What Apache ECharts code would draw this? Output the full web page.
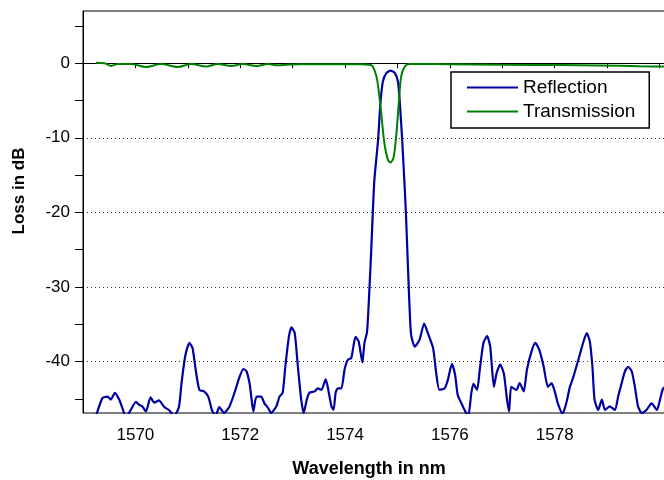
<!DOCTYPE html>
<html>
<head>
<meta charset="utf-8">
<script src="https://cdn.jsdelivr.net/npm/echarts@6/dist/echarts.min.js"></script>
<style>html,body{margin:0;padding:0;background:#fff}#c{width:664px;height:480px}</style>
</head>
<body>
<div id="c"></div>
<script>
// ---- data ----
const reflWl = [1569.24,1569.37,1569.47,1569.53,1569.61,1569.69,1569.75,1569.82,1569.91,1570.01,1570.07,1570.13,1570.20,1570.29,1570.36,1570.45,1570.55,1570.64,1570.74,1570.83,1570.88,1570.95,1571.03,1571.09,1571.15,1571.22,1571.31,1571.39,1571.46,1571.53,1571.60,1571.69,1571.79,1571.89,1571.98,1572.06,1572.12,1572.18,1572.21,1572.25,1572.31,1572.40,1572.46,1572.53,1572.59,1572.69,1572.75,1572.81,1572.86,1572.93,1572.98,1573.04,1573.10,1573.16,1573.21,1573.27,1573.32,1573.42,1573.48,1573.55,1573.63,1573.67,1573.74,1573.78,1573.82,1573.86,1573.93,1573.99,1574.05,1574.12,1574.20,1574.26,1574.33,1574.37,1574.42,1574.46,1574.50,1574.53,1574.56,1574.63,1574.67,1574.72,1574.79,1574.87,1574.95,1575.01,1575.05,1575.09,1575.13,1575.16,1575.20,1575.23,1575.26,1575.33,1575.42,1575.51,1575.58,1575.68,1575.74,1575.80,1575.90,1575.96,1576.04,1576.10,1576.15,1576.22,1576.28,1576.35,1576.41,1576.45,1576.52,1576.57,1576.64,1576.71,1576.77,1576.84,1576.89,1576.96,1577.03,1577.09,1577.13,1577.17,1577.27,1577.33,1577.41,1577.47,1577.56,1577.63,1577.71,1577.79,1577.87,1577.94,1578.00,1578.06,1578.15,1578.22,1578.29,1578.35,1578.45,1578.53,1578.61,1578.67,1578.72,1578.76,1578.83,1578.90,1578.96,1579.05,1579.15,1579.21,1579.27,1579.34,1579.40,1579.47,1579.53,1579.59,1579.66,1579.75,1579.85,1579.95,1580.01,1580.07,1580.20];
const reflDb = [-47.5,-44.9,-44.7,-45.1,-44.2,-45.1,-46.2,-47.5,-46.5,-45.4,-45.8,-46.0,-46.7,-44.8,-45.5,-45.2,-46.1,-46.5,-47.3,-46.1,-42.9,-39.3,-37.5,-38.2,-41.1,-43.8,-44.0,-44.7,-46.5,-47.3,-46.1,-46.9,-46.1,-44.2,-42.2,-41.0,-41.3,-43.0,-44.7,-46.7,-44.7,-44.7,-45.6,-46.2,-46.9,-46.0,-44.7,-44.2,-40.7,-36.6,-35.4,-36.2,-40.7,-44.9,-46.9,-45.1,-44.2,-44.0,-43.6,-43.8,-42.4,-43.4,-46.0,-46.5,-44.2,-43.6,-43.6,-41.1,-39.8,-39.5,-36.7,-37.3,-40.1,-37.5,-36.0,-31.0,-25.0,-19.9,-15.6,-10.3,-5.8,-2.5,-1.3,-1.0,-1.3,-2.5,-5.8,-10.3,-15.6,-19.9,-27.3,-32.6,-36.4,-38.0,-37.1,-34.9,-36.2,-38.2,-41.6,-43.8,-43.6,-42.5,-40.3,-41.8,-44.5,-45.6,-46.5,-47.3,-44.2,-43.0,-43.8,-41.1,-37.5,-36.6,-38.0,-43.4,-41.6,-40.4,-41.6,-45.1,-46.7,-43.4,-43.8,-42.9,-44.0,-41.1,-38.6,-37.5,-38.5,-40.7,-43.4,-42.9,-44.0,-45.6,-47.0,-45.6,-43.4,-42.2,-39.8,-37.8,-36.2,-37.3,-40.7,-45.1,-46.5,-45.1,-46.5,-46.0,-46.5,-44.7,-43.1,-41.3,-40.7,-41.3,-43.4,-46.0,-46.9,-46.5,-45.6,-46.5,-45.1,-43.6,-43.0];

const transWl = [1569.25,1569.41,1569.54,1569.66,1569.92,1570.20,1570.49,1570.81,1571.06,1571.35,1571.57,1571.83,1572.05,1572.31,1572.53,1572.72,1572.97,1573.13,1573.70,1574.28,1574.47,1574.53,1574.60,1574.64,1574.69,1574.75,1574.82,1574.87,1574.93,1574.98,1575.03,1575.07,1575.14,1575.23,1576.00,1576.95,1578.10,1578.86,1579.62,1580.20];
const transDb = [0.05,0.0,-0.36,-0.1,-0.1,-0.5,-0.1,-0.5,-0.1,-0.45,-0.1,-0.36,-0.1,-0.36,-0.12,-0.27,-0.18,-0.13,-0.13,-0.13,-0.2,-0.45,-1.8,-3.6,-6.7,-10.7,-13.0,-13.3,-12.5,-9.4,-4.9,-1.8,-0.45,-0.1,-0.15,-0.2,-0.25,-0.3,-0.4,-0.47];

const xMin = 1569, xMax = 1580.2;
const yMin = -46.9, yMax = 7;
const yTickMin = -45, yTickMax = 5, yTickStep = 5;
const yGridMin = -40, yGridMax = 0, yGridStep = 10;
const seriesNames = ['Reflection', 'Transmission'];
const xTitle = 'Wavelength in nm';
const yTitle = 'Loss in dB';

// ---- layout ----
const W = 664, H = 480;
const gTop = 11, gBottom = 413, gLeft = 83, gRight = -6;
const pxPer = (gBottom - gTop) / (yMax - yMin);
const yPix = v => gTop + (yMax - v) * pxPer;
const FONT = "'Liberation Sans', Arial, sans-serif";

const refl = reflWl.map((w, i) => [w, reflDb[i]]);
const trans = transWl.map((w, i) => [w, transDb[i]]);

const chart = echarts.init(document.getElementById('c'), null, {renderer: 'canvas'});
const hidden = {show: false};
const gridBase = {left: gLeft, right: gRight, outerBoundsMode: 'none', containLabel: false};
chart.setOption({
  animation: false,
  backgroundColor: '#fff',
  grid: [
    Object.assign({}, gridBase, {top: gTop, bottom: H - gBottom, show: true, borderColor: '#000', borderWidth: 1, backgroundColor: 'transparent'}),
    Object.assign({}, gridBase, {top: yPix(yTickMax), bottom: H - yPix(yTickMin)}),
    Object.assign({}, gridBase, {top: yPix(yGridMax), bottom: H - yPix(yGridMin)})
  ],
  xAxis: [
    {type: 'value', gridIndex: 0, min: xMin, max: xMax, interval: 1,
     axisLine: {show: true, lineStyle: {color: '#000', width: 1}},
     axisTick: {show: true, length: 5, lineStyle: {color: '#000', width: 1}},
     splitLine: hidden,
     axisLabel: {margin: 14, color: '#000', fontSize: 17, fontFamily: FONT, hideOverlap: false,
       formatter: v => (Math.abs(v - Math.round(v)) < 1e-6 && Math.round(v) % 2 === 0 && v < 1579.5) ? String(Math.round(v)) : ''}},
    {type: 'value', gridIndex: 1, min: xMin, max: xMax, show: false},
    {type: 'value', gridIndex: 2, min: xMin, max: xMax, show: false}
  ],
  yAxis: [
    {type: 'value', gridIndex: 0, min: yMin, max: yMax,
     axisLine: {show: true, lineStyle: {color: '#000', width: 1}},
     axisTick: hidden, axisLabel: hidden, splitLine: hidden},
    {type: 'value', gridIndex: 1, min: yTickMin, max: yTickMax, interval: yTickStep,
     axisLine: hidden,
     axisTick: {show: true, length: 8, lineStyle: {color: '#000', width: 1}},
     splitLine: hidden,
     axisLabel: {margin: 13, color: '#000', fontSize: 17, fontFamily: FONT,
       formatter: v => (Math.round(v) % 10 === 0) ? String(Math.round(v)) : ''}},
    {type: 'value', gridIndex: 2, min: yGridMin, max: yGridMax, interval: yGridStep,
     axisLine: hidden, axisTick: hidden, axisLabel: hidden,
     splitLine: {show: true, lineStyle: {color: '#333', width: 1, type: [1, 3]}}}
  ],
  legend: {
    orient: 'vertical', left: 451, top: 72,
    padding: [6, 14, 7, 16], itemGap: 5, itemWidth: 51, itemHeight: 2,
    backgroundColor: '#fff', borderColor: '#000', borderWidth: 1.5,
    textStyle: {fontSize: 19, fontFamily: FONT, color: '#000'},
    data: seriesNames.map(n => ({name: n, icon: 'rect'}))
  },
  graphic: [
    {type: 'text', x: 369, y: 469, style: {text: xTitle, font: "bold 18px 'Liberation Sans', Arial, sans-serif", fill: '#000', align: 'center', verticalAlign: 'middle'}},
    {type: 'text', x: 19, y: 191, rotation: Math.PI / 2, style: {text: yTitle, font: "bold 17px 'Liberation Sans', Arial, sans-serif", fill: '#000', align: 'center', verticalAlign: 'middle'}}
  ],
  series: [
    {name: seriesNames[0], type: 'line', xAxisIndex: 0, yAxisIndex: 0, data: refl, symbol: 'none', smooth: 0.2, clip: true,
     lineStyle: {color: '#0000A0', width: 2.2}, itemStyle: {color: '#0000A0'}, z: 3},
    {name: seriesNames[1], type: 'line', xAxisIndex: 0, yAxisIndex: 0, data: trans, symbol: 'none', smooth: 0.3, clip: true,
     lineStyle: {color: '#008000', width: 2}, itemStyle: {color: '#008000'}, z: 4}
  ]
});
</script>
</body>
</html>
